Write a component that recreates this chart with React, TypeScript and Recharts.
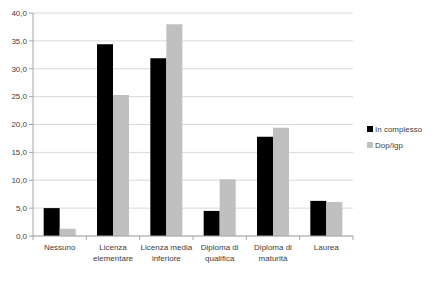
import React from 'react';
import { BarChart, Bar, XAxis, YAxis, CartesianGrid } from 'recharts';

const categories = [
  'Nessuno',
  'Licenza\nelementare',
  'Licenza media\ninferiore',
  'Diploma di\nqualifica',
  'Diploma di\nmaturità',
  'Laurea',
];
const inComplesso = [5.0, 34.4, 31.9, 4.5, 17.8, 6.3];
const dopIgp = [1.3, 25.3, 38.0, 10.2, 19.4, 6.1];
const yTicks = [0, 5, 10, 15, 20, 25, 30, 35, 40];

const series = [
  { key: 'inComplesso', name: 'In complesso', color: '#000000' },
  { key: 'dopIgp', name: 'Dop/Igp', color: '#c0c0c0' },
];

const data = categories.map((c, i) => ({
  name: c,
  inComplesso: inComplesso[i],
  dopIgp: dopIgp[i],
}));

const FONT = '"Liberation Sans", Arial, sans-serif';
const W = 434;
const H = 283;
const MARGIN = { top: 13, right: 81, left: 0, bottom: 17 };
const Y_AXIS_W = 33;
const BAND = (W - MARGIN.right - MARGIN.left - Y_AXIS_W) / categories.length;

const CategoryTick = (props: any) => {
  const { x, y, payload, index } = props;
  const lines = String(payload.value).split('\n');
  const last = index === categories.length - 1;
  return (
    <g>
      <line x1={x - BAND / 2} x2={x - BAND / 2} y1={y} y2={y + 4} stroke="#a6a6a6" />
      {last && <line x1={x + BAND / 2} x2={x + BAND / 2} y1={y} y2={y + 4} stroke="#a6a6a6" />}
      <text x={x} y={y} textAnchor="middle" fontSize={8} fill="#404040" fontFamily={FONT}>
        {lines.map((l, i) => (
          <tspan key={i} x={x} dy={i === 0 ? 14 : 11}>
            {l}
          </tspan>
        ))}
      </text>
    </g>
  );
};

const App = () => {
  return (
    <div style={{ position: 'relative', width: W, height: H, background: '#fff' }}>
      <style>{'body{margin:0}'}</style>
      <BarChart
        width={W}
        height={H}
        data={data}
        margin={MARGIN}
        barCategoryGap="20%"
        barGap={0}
      >
        <CartesianGrid vertical={false} stroke="#d9d9d9" />
        <XAxis
          dataKey="name"
          interval={0}
          tick={<CategoryTick />}
          tickLine={false}
          tickSize={0}
          tickMargin={0}
          axisLine={{ stroke: '#a6a6a6' }}
          height={30}
        />
        <YAxis
          width={Y_AXIS_W}
          domain={[0, 40]}
          ticks={yTicks}
          interval={0}
          tickFormatter={(v: number) => v.toFixed(1).replace('.', ',')}
          tick={{ fontSize: 8, fill: '#404040', fontFamily: FONT }}
          axisLine={{ stroke: '#a6a6a6' }}
          tickLine={{ stroke: '#a6a6a6' }}
          tickSize={4}
        />
        {series.map((s) => (
          <Bar key={s.key} dataKey={s.key} fill={s.color} isAnimationActive={false} />
        ))}
      </BarChart>
      <div style={{ position: 'absolute', left: 367, top: 121, fontFamily: FONT, fontSize: 8, color: '#404040' }}>
        {series.map((s) => (
          <div key={s.key} style={{ display: 'flex', alignItems: 'center', height: 16 }}>
            <span style={{ display: 'inline-block', width: 6, height: 6, background: s.color, marginRight: 2 }} />
            {s.name}
          </div>
        ))}
      </div>
    </div>
  );
};

export default App;
